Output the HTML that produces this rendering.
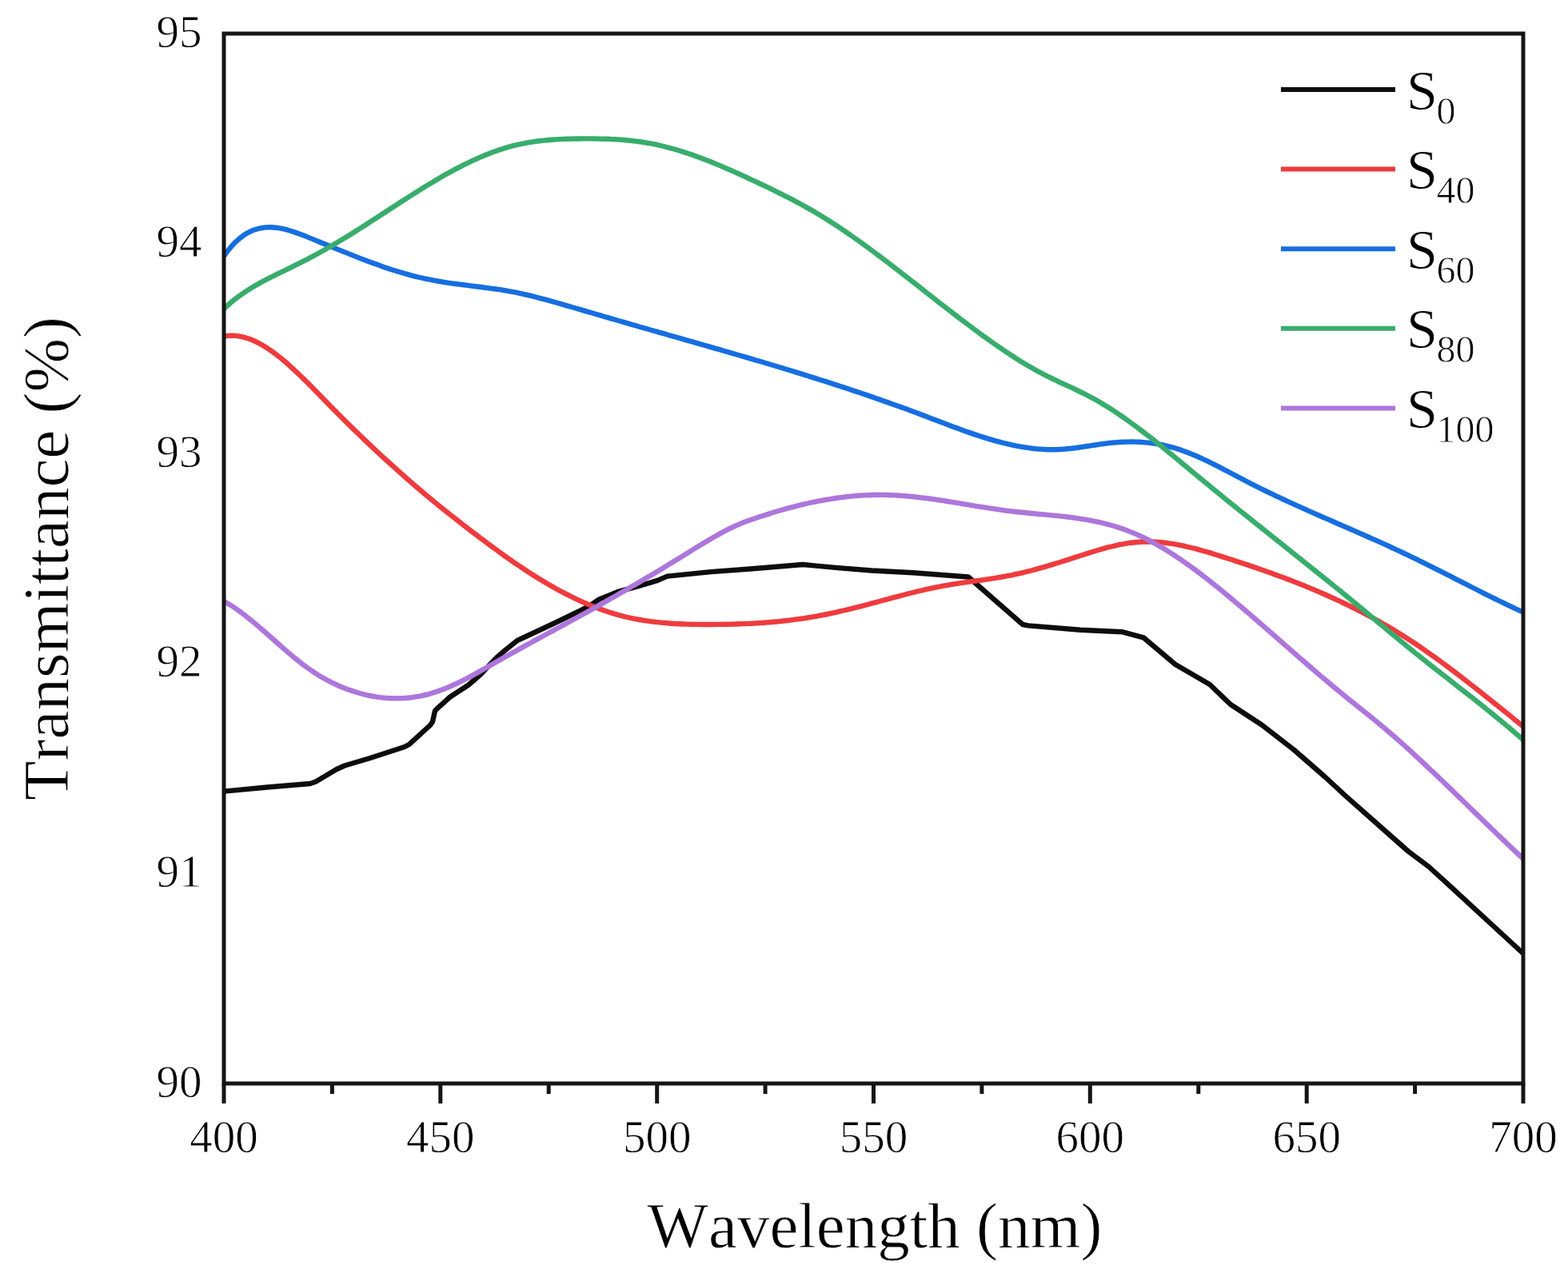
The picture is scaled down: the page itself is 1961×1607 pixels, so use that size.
<!DOCTYPE html>
<html><head><meta charset="utf-8"><title>Transmittance</title>
<style>html,body{margin:0;padding:0;background:#fff;width:1961px;height:1607px;overflow:hidden}svg{display:block;filter:blur(0.7px)}.t{stroke:#fff;stroke-width:0.8px;font-kerning:none}</style>
</head><body>
<svg width="1961" height="1607" viewBox="0 0 1961 1607" font-family="'Liberation Serif', 'Times New Roman', serif" fill="#000"><rect x="0" y="0" width="1961" height="1607" fill="#ffffff"/>
<defs><clipPath id="pc"><rect x="280.0" y="42.0" width="1625.0" height="1313.0"/></clipPath></defs>
<g clip-path="url(#pc)" fill="none" stroke-width="6.4" stroke-linejoin="round" stroke-linecap="butt">
<path d="M280.0,989.6 L334.0,984.5 L388.0,980.0 L395.0,977.5 L421.0,962.0 L431.0,957.5 L463.0,948.0 L506.0,934.0 L512.0,930.7 L538.0,907.0 L541.0,902.5 L544.0,889.0 L548.4,884.6 L563.0,871.5 L586.0,856.5 L601.0,843.5 L609.0,835.0 L621.0,822.4 L632.0,813.0 L647.0,801.0 L662.0,794.0 L693.0,779.5 L724.0,764.5 L739.0,756.6 L749.0,749.6 L773.4,739.8 L797.9,733.2 L822.4,725.9 L834.6,720.6 L889.0,715.1 L941.0,711.2 L1004.0,706.0 L1045.0,709.9 L1090.0,713.5 L1142.0,716.3 L1211.0,721.5 L1279.0,781.0 L1286.0,782.4 L1351.0,787.7 L1404.0,790.3 L1430.0,797.3 L1470.0,831.0 L1513.0,856.0 L1539.0,881.0 L1578.0,906.5 L1618.0,937.5 L1657.0,971.5 L1683.0,995.5 L1735.0,1041.5 L1761.0,1064.5 L1787.0,1084.0 L1814.0,1108.6 L1867.0,1157.5 L1905.0,1192.5" stroke="#0d0d0d"/>
<path d="M280.0,420.6 L285.0,419.9 L290.0,419.7 L295.0,419.9 L300.0,420.6 L305.0,421.7 L310.0,423.2 L315.0,425.1 L320.0,427.3 L325.0,429.8 L330.0,432.7 L335.0,435.9 L340.0,439.3 L345.0,443.0 L350.0,446.9 L355.0,451.0 L360.0,455.3 L365.0,459.8 L370.0,464.5 L375.0,469.3 L380.0,474.1 L385.0,479.1 L390.0,484.1 L395.0,489.2 L400.0,494.3 L405.0,499.5 L410.0,504.6 L415.0,509.7 L420.0,514.7 L425.0,519.7 L430.0,524.7 L435.0,529.7 L440.0,534.6 L445.0,539.5 L450.0,544.3 L455.0,549.1 L460.0,553.9 L465.0,558.6 L470.0,563.3 L475.0,568.0 L480.0,572.6 L485.0,577.2 L490.0,581.7 L495.0,586.2 L500.0,590.7 L505.0,595.1 L510.0,599.5 L515.0,603.9 L520.0,608.2 L525.0,612.5 L530.0,616.7 L535.0,620.9 L540.0,625.0 L545.0,629.1 L550.0,633.2 L555.0,637.2 L560.0,641.2 L565.0,645.2 L570.0,649.1 L575.0,653.0 L580.0,656.9 L585.0,660.8 L590.0,664.6 L595.0,668.4 L600.0,672.2 L605.0,675.9 L610.0,679.7 L615.0,683.4 L620.0,687.0 L625.0,690.7 L630.0,694.3 L635.0,697.8 L640.0,701.3 L645.0,704.8 L650.0,708.2 L655.0,711.5 L660.0,714.8 L665.0,718.0 L670.0,721.2 L675.0,724.3 L680.0,727.3 L685.0,730.3 L690.0,733.1 L695.0,736.0 L700.0,738.7 L705.0,741.3 L710.0,743.9 L715.0,746.4 L720.0,748.8 L725.0,751.2 L730.0,753.4 L735.0,755.6 L740.0,757.6 L745.0,759.6 L750.0,761.5 L755.0,763.3 L760.0,765.0 L765.0,766.6 L770.0,768.1 L775.0,769.5 L780.0,770.8 L785.0,772.0 L790.0,773.1 L795.0,774.1 L800.0,775.0 L805.0,775.8 L810.0,776.6 L815.0,777.3 L820.0,777.9 L825.0,778.4 L830.0,778.9 L835.0,779.3 L840.0,779.7 L845.0,780.0 L850.0,780.3 L855.0,780.5 L860.0,780.6 L865.0,780.8 L870.0,780.9 L875.0,780.9 L880.0,781.0 L885.0,781.0 L890.0,781.0 L895.0,780.9 L900.0,780.9 L905.0,780.8 L910.0,780.7 L915.0,780.6 L920.0,780.5 L925.0,780.3 L930.0,780.1 L935.0,779.9 L940.0,779.7 L945.0,779.4 L950.0,779.1 L955.0,778.8 L960.0,778.4 L965.0,778.0 L970.0,777.5 L975.0,777.1 L980.0,776.5 L985.0,776.0 L990.0,775.4 L995.0,774.7 L1000.0,774.0 L1005.0,773.3 L1010.0,772.5 L1015.0,771.7 L1020.0,770.8 L1025.0,769.9 L1030.0,769.0 L1035.0,768.0 L1040.0,766.9 L1045.0,765.8 L1050.0,764.7 L1055.0,763.5 L1060.0,762.3 L1065.0,761.1 L1070.0,759.9 L1075.0,758.6 L1080.0,757.3 L1085.0,756.0 L1090.0,754.6 L1095.0,753.3 L1100.0,752.0 L1105.0,750.6 L1110.0,749.3 L1115.0,747.9 L1120.0,746.6 L1125.0,745.3 L1130.0,744.0 L1135.0,742.7 L1140.0,741.5 L1145.0,740.2 L1150.0,739.0 L1155.0,737.9 L1160.0,736.7 L1165.0,735.6 L1170.0,734.6 L1175.0,733.6 L1180.0,732.7 L1185.0,731.8 L1190.0,730.9 L1195.0,730.1 L1200.0,729.4 L1205.0,728.6 L1210.0,727.9 L1215.0,727.2 L1220.0,726.5 L1225.0,725.8 L1230.0,725.1 L1235.0,724.3 L1240.0,723.6 L1245.0,722.8 L1250.0,722.0 L1255.0,721.1 L1260.0,720.2 L1265.0,719.3 L1270.0,718.2 L1275.0,717.1 L1280.0,716.0 L1285.0,714.7 L1290.0,713.5 L1295.0,712.1 L1300.0,710.7 L1305.0,709.3 L1310.0,707.9 L1315.0,706.4 L1320.0,704.8 L1325.0,703.3 L1330.0,701.7 L1335.0,700.1 L1340.0,698.5 L1345.0,696.9 L1350.0,695.3 L1355.0,693.7 L1360.0,692.1 L1365.0,690.5 L1370.0,689.0 L1375.0,687.5 L1380.0,686.1 L1385.0,684.7 L1390.0,683.5 L1395.0,682.3 L1400.0,681.2 L1405.0,680.3 L1410.0,679.4 L1415.0,678.7 L1420.0,678.2 L1425.0,677.8 L1430.0,677.5 L1435.0,677.4 L1440.0,677.5 L1445.0,677.7 L1450.0,678.1 L1455.0,678.5 L1460.0,679.2 L1465.0,679.9 L1470.0,680.7 L1475.0,681.6 L1480.0,682.7 L1485.0,683.8 L1490.0,685.0 L1495.0,686.2 L1500.0,687.6 L1505.0,689.0 L1510.0,690.4 L1515.0,691.9 L1520.0,693.5 L1525.0,695.0 L1530.0,696.6 L1535.0,698.2 L1540.0,699.8 L1545.0,701.5 L1550.0,703.1 L1555.0,704.8 L1560.0,706.4 L1565.0,708.1 L1570.0,709.8 L1575.0,711.6 L1580.0,713.3 L1585.0,715.1 L1590.0,716.8 L1595.0,718.7 L1600.0,720.5 L1605.0,722.3 L1610.0,724.2 L1615.0,726.1 L1620.0,728.1 L1625.0,730.0 L1630.0,732.0 L1635.0,734.1 L1640.0,736.1 L1645.0,738.2 L1650.0,740.4 L1655.0,742.5 L1660.0,744.7 L1665.0,747.0 L1670.0,749.3 L1675.0,751.6 L1680.0,754.0 L1685.0,756.4 L1690.0,758.8 L1695.0,761.3 L1700.0,763.9 L1705.0,766.5 L1710.0,769.1 L1715.0,771.8 L1720.0,774.6 L1725.0,777.4 L1730.0,780.2 L1735.0,783.1 L1740.0,786.1 L1745.0,789.1 L1750.0,792.2 L1755.0,795.3 L1760.0,798.5 L1765.0,801.7 L1770.0,805.0 L1775.0,808.4 L1780.0,811.8 L1785.0,815.3 L1790.0,818.8 L1795.0,822.4 L1800.0,826.0 L1805.0,829.7 L1810.0,833.4 L1815.0,837.2 L1820.0,840.9 L1825.0,844.8 L1830.0,848.6 L1835.0,852.5 L1840.0,856.4 L1845.0,860.3 L1850.0,864.3 L1855.0,868.2 L1860.0,872.2 L1865.0,876.2 L1870.0,880.2 L1875.0,884.2 L1880.0,888.3 L1885.0,892.3 L1890.0,896.4 L1895.0,900.4 L1900.0,904.4 L1905.0,908.5" stroke="#ef3b3e"/>
<path d="M280.0,320.3 L285.0,313.5 L290.0,307.5 L295.0,302.3 L300.0,297.9 L305.0,294.1 L310.0,291.1 L315.0,288.6 L320.0,286.8 L325.0,285.5 L330.0,284.6 L335.0,284.3 L340.0,284.3 L345.0,284.7 L350.0,285.4 L355.0,286.4 L360.0,287.7 L365.0,289.2 L370.0,290.9 L375.0,292.7 L380.0,294.6 L385.0,296.6 L390.0,298.6 L395.0,300.6 L400.0,302.7 L405.0,304.7 L410.0,306.8 L415.0,308.8 L420.0,310.9 L425.0,312.9 L430.0,314.9 L435.0,316.9 L440.0,318.9 L445.0,320.9 L450.0,322.9 L455.0,324.8 L460.0,326.7 L465.0,328.5 L470.0,330.3 L475.0,332.1 L480.0,333.9 L485.0,335.6 L490.0,337.2 L495.0,338.8 L500.0,340.3 L505.0,341.8 L510.0,343.2 L515.0,344.6 L520.0,345.8 L525.0,347.0 L530.0,348.2 L535.0,349.2 L540.0,350.2 L545.0,351.1 L550.0,352.0 L555.0,352.8 L560.0,353.6 L565.0,354.3 L570.0,355.0 L575.0,355.7 L580.0,356.3 L585.0,356.9 L590.0,357.6 L595.0,358.2 L600.0,358.8 L605.0,359.5 L610.0,360.1 L615.0,360.8 L620.0,361.5 L625.0,362.2 L630.0,363.0 L635.0,363.9 L640.0,364.8 L645.0,365.7 L650.0,366.8 L655.0,367.9 L660.0,369.0 L665.0,370.2 L670.0,371.5 L675.0,372.8 L680.0,374.1 L685.0,375.4 L690.0,376.8 L695.0,378.3 L700.0,379.7 L705.0,381.1 L710.0,382.6 L715.0,384.0 L720.0,385.5 L725.0,386.9 L730.0,388.4 L735.0,389.8 L740.0,391.3 L745.0,392.8 L750.0,394.2 L755.0,395.7 L760.0,397.1 L765.0,398.6 L770.0,400.0 L775.0,401.5 L780.0,402.9 L785.0,404.4 L790.0,405.8 L795.0,407.2 L800.0,408.7 L805.0,410.1 L810.0,411.5 L815.0,413.0 L820.0,414.4 L825.0,415.8 L830.0,417.2 L835.0,418.7 L840.0,420.1 L845.0,421.5 L850.0,422.9 L855.0,424.4 L860.0,425.8 L865.0,427.2 L870.0,428.6 L875.0,430.1 L880.0,431.5 L885.0,432.9 L890.0,434.4 L895.0,435.8 L900.0,437.2 L905.0,438.7 L910.0,440.1 L915.0,441.6 L920.0,443.0 L925.0,444.5 L930.0,445.9 L935.0,447.4 L940.0,448.9 L945.0,450.3 L950.0,451.8 L955.0,453.3 L960.0,454.8 L965.0,456.3 L970.0,457.8 L975.0,459.3 L980.0,460.8 L985.0,462.3 L990.0,463.8 L995.0,465.4 L1000.0,466.9 L1005.0,468.4 L1010.0,470.0 L1015.0,471.6 L1020.0,473.1 L1025.0,474.7 L1030.0,476.3 L1035.0,477.9 L1040.0,479.5 L1045.0,481.1 L1050.0,482.7 L1055.0,484.4 L1060.0,486.0 L1065.0,487.7 L1070.0,489.4 L1075.0,491.0 L1080.0,492.7 L1085.0,494.4 L1090.0,496.1 L1095.0,497.9 L1100.0,499.6 L1105.0,501.4 L1110.0,503.1 L1115.0,504.9 L1120.0,506.7 L1125.0,508.5 L1130.0,510.3 L1135.0,512.1 L1140.0,514.0 L1145.0,515.8 L1150.0,517.7 L1155.0,519.6 L1160.0,521.5 L1165.0,523.4 L1170.0,525.3 L1175.0,527.2 L1180.0,529.1 L1185.0,531.0 L1190.0,532.9 L1195.0,534.8 L1200.0,536.6 L1205.0,538.4 L1210.0,540.2 L1215.0,541.9 L1220.0,543.6 L1225.0,545.3 L1230.0,546.9 L1235.0,548.4 L1240.0,549.9 L1245.0,551.3 L1250.0,552.7 L1255.0,554.0 L1260.0,555.2 L1265.0,556.3 L1270.0,557.4 L1275.0,558.3 L1280.0,559.2 L1285.0,559.9 L1290.0,560.6 L1295.0,561.2 L1300.0,561.6 L1305.0,561.9 L1310.0,562.2 L1315.0,562.2 L1320.0,562.2 L1325.0,562.0 L1330.0,561.7 L1335.0,561.3 L1340.0,560.8 L1345.0,560.2 L1350.0,559.5 L1355.0,558.7 L1360.0,558.0 L1365.0,557.2 L1370.0,556.5 L1375.0,555.7 L1380.0,555.0 L1385.0,554.4 L1390.0,553.8 L1395.0,553.4 L1400.0,553.0 L1405.0,552.7 L1410.0,552.6 L1415.0,552.5 L1420.0,552.6 L1425.0,552.8 L1430.0,553.1 L1435.0,553.6 L1440.0,554.1 L1445.0,554.9 L1450.0,555.7 L1455.0,556.7 L1460.0,557.8 L1465.0,559.1 L1470.0,560.5 L1475.0,562.1 L1480.0,563.9 L1485.0,565.7 L1490.0,567.7 L1495.0,569.8 L1500.0,572.0 L1505.0,574.3 L1510.0,576.7 L1515.0,579.1 L1520.0,581.6 L1525.0,584.2 L1530.0,586.8 L1535.0,589.4 L1540.0,592.0 L1545.0,594.6 L1550.0,597.3 L1555.0,599.9 L1560.0,602.5 L1565.0,605.1 L1570.0,607.6 L1575.0,610.1 L1580.0,612.6 L1585.0,615.0 L1590.0,617.4 L1595.0,619.8 L1600.0,622.2 L1605.0,624.5 L1610.0,626.8 L1615.0,629.1 L1620.0,631.4 L1625.0,633.7 L1630.0,635.9 L1635.0,638.1 L1640.0,640.4 L1645.0,642.6 L1650.0,644.8 L1655.0,647.0 L1660.0,649.1 L1665.0,651.3 L1670.0,653.5 L1675.0,655.7 L1680.0,657.9 L1685.0,660.0 L1690.0,662.2 L1695.0,664.4 L1700.0,666.6 L1705.0,668.8 L1710.0,671.0 L1715.0,673.2 L1720.0,675.4 L1725.0,677.7 L1730.0,679.9 L1735.0,682.2 L1740.0,684.5 L1745.0,686.8 L1750.0,689.1 L1755.0,691.5 L1760.0,693.9 L1765.0,696.3 L1770.0,698.7 L1775.0,701.1 L1780.0,703.6 L1785.0,706.1 L1790.0,708.6 L1795.0,711.1 L1800.0,713.6 L1805.0,716.1 L1810.0,718.7 L1815.0,721.2 L1820.0,723.8 L1825.0,726.3 L1830.0,728.9 L1835.0,731.4 L1840.0,734.0 L1845.0,736.5 L1850.0,739.0 L1855.0,741.6 L1860.0,744.1 L1865.0,746.6 L1870.0,749.0 L1875.0,751.5 L1880.0,753.9 L1885.0,756.3 L1890.0,758.7 L1895.0,761.1 L1900.0,763.4 L1905.0,765.7" stroke="#166ee0"/>
<path d="M280.0,386.1 L285.0,381.6 L290.0,377.3 L295.0,373.3 L300.0,369.6 L305.0,366.1 L310.0,362.8 L315.0,359.7 L320.0,356.7 L325.0,353.9 L330.0,351.2 L335.0,348.7 L340.0,346.1 L345.0,343.7 L350.0,341.2 L355.0,338.8 L360.0,336.4 L365.0,333.9 L370.0,331.4 L375.0,328.9 L380.0,326.3 L385.0,323.8 L390.0,321.1 L395.0,318.5 L400.0,315.7 L405.0,313.0 L410.0,310.1 L415.0,307.3 L420.0,304.3 L425.0,301.3 L430.0,298.3 L435.0,295.3 L440.0,292.2 L445.0,289.0 L450.0,285.9 L455.0,282.7 L460.0,279.5 L465.0,276.2 L470.0,273.0 L475.0,269.8 L480.0,266.5 L485.0,263.3 L490.0,260.0 L495.0,256.8 L500.0,253.5 L505.0,250.3 L510.0,247.1 L515.0,243.9 L520.0,240.7 L525.0,237.6 L530.0,234.5 L535.0,231.4 L540.0,228.4 L545.0,225.4 L550.0,222.5 L555.0,219.6 L560.0,216.8 L565.0,214.1 L570.0,211.4 L575.0,208.8 L580.0,206.2 L585.0,203.8 L590.0,201.4 L595.0,199.1 L600.0,196.9 L605.0,194.8 L610.0,192.7 L615.0,190.8 L620.0,189.0 L625.0,187.2 L630.0,185.6 L635.0,184.1 L640.0,182.7 L645.0,181.5 L650.0,180.3 L655.0,179.3 L660.0,178.4 L665.0,177.6 L670.0,176.8 L675.0,176.2 L680.0,175.6 L685.0,175.2 L690.0,174.8 L695.0,174.4 L700.0,174.1 L705.0,173.9 L710.0,173.7 L715.0,173.6 L720.0,173.5 L725.0,173.5 L730.0,173.4 L735.0,173.4 L740.0,173.4 L745.0,173.5 L750.0,173.6 L755.0,173.7 L760.0,173.8 L765.0,174.1 L770.0,174.3 L775.0,174.6 L780.0,175.0 L785.0,175.5 L790.0,176.0 L795.0,176.6 L800.0,177.2 L805.0,178.0 L810.0,178.8 L815.0,179.7 L820.0,180.7 L825.0,181.8 L830.0,183.0 L835.0,184.3 L840.0,185.6 L845.0,187.0 L850.0,188.5 L855.0,190.1 L860.0,191.7 L865.0,193.4 L870.0,195.2 L875.0,197.0 L880.0,198.9 L885.0,200.8 L890.0,202.8 L895.0,204.9 L900.0,206.9 L905.0,209.1 L910.0,211.2 L915.0,213.4 L920.0,215.6 L925.0,217.9 L930.0,220.2 L935.0,222.5 L940.0,224.8 L945.0,227.1 L950.0,229.5 L955.0,231.8 L960.0,234.2 L965.0,236.6 L970.0,239.1 L975.0,241.6 L980.0,244.1 L985.0,246.6 L990.0,249.2 L995.0,251.9 L1000.0,254.5 L1005.0,257.3 L1010.0,260.1 L1015.0,262.9 L1020.0,265.8 L1025.0,268.8 L1030.0,271.9 L1035.0,275.0 L1040.0,278.2 L1045.0,281.4 L1050.0,284.7 L1055.0,288.1 L1060.0,291.5 L1065.0,295.0 L1070.0,298.5 L1075.0,302.0 L1080.0,305.6 L1085.0,309.3 L1090.0,313.0 L1095.0,316.7 L1100.0,320.4 L1105.0,324.2 L1110.0,328.0 L1115.0,331.8 L1120.0,335.7 L1125.0,339.5 L1130.0,343.4 L1135.0,347.3 L1140.0,351.2 L1145.0,355.1 L1150.0,359.1 L1155.0,363.0 L1160.0,366.9 L1165.0,370.8 L1170.0,374.7 L1175.0,378.7 L1180.0,382.5 L1185.0,386.4 L1190.0,390.3 L1195.0,394.1 L1200.0,398.0 L1205.0,401.8 L1210.0,405.5 L1215.0,409.3 L1220.0,413.0 L1225.0,416.7 L1230.0,420.3 L1235.0,423.9 L1240.0,427.5 L1245.0,431.0 L1250.0,434.4 L1255.0,437.8 L1260.0,441.2 L1265.0,444.5 L1270.0,447.7 L1275.0,450.9 L1280.0,453.9 L1285.0,456.9 L1290.0,459.8 L1295.0,462.7 L1300.0,465.4 L1305.0,468.0 L1310.0,470.6 L1315.0,473.0 L1320.0,475.4 L1325.0,477.8 L1330.0,480.1 L1335.0,482.4 L1340.0,484.7 L1345.0,487.1 L1350.0,489.5 L1355.0,491.9 L1360.0,494.5 L1365.0,497.1 L1370.0,499.8 L1375.0,502.7 L1380.0,505.7 L1385.0,508.8 L1390.0,511.9 L1395.0,515.2 L1400.0,518.6 L1405.0,522.0 L1410.0,525.5 L1415.0,529.2 L1420.0,532.8 L1425.0,536.6 L1430.0,540.4 L1435.0,544.2 L1440.0,548.1 L1445.0,552.1 L1450.0,556.1 L1455.0,560.1 L1460.0,564.2 L1465.0,568.3 L1470.0,572.4 L1475.0,576.5 L1480.0,580.7 L1485.0,584.8 L1490.0,589.0 L1495.0,593.1 L1500.0,597.3 L1505.0,601.4 L1510.0,605.5 L1515.0,609.6 L1520.0,613.7 L1525.0,617.8 L1530.0,621.9 L1535.0,625.9 L1540.0,630.0 L1545.0,634.0 L1550.0,638.1 L1555.0,642.1 L1560.0,646.1 L1565.0,650.1 L1570.0,654.1 L1575.0,658.1 L1580.0,662.1 L1585.0,666.0 L1590.0,670.0 L1595.0,674.0 L1600.0,678.0 L1605.0,682.0 L1610.0,686.0 L1615.0,689.9 L1620.0,693.9 L1625.0,697.9 L1630.0,701.9 L1635.0,705.9 L1640.0,709.9 L1645.0,713.9 L1650.0,717.9 L1655.0,721.9 L1660.0,726.0 L1665.0,730.0 L1670.0,734.1 L1675.0,738.1 L1680.0,742.2 L1685.0,746.3 L1690.0,750.4 L1695.0,754.5 L1700.0,758.6 L1705.0,762.8 L1710.0,766.9 L1715.0,771.1 L1720.0,775.3 L1725.0,779.5 L1730.0,783.6 L1735.0,787.8 L1740.0,792.0 L1745.0,796.1 L1750.0,800.3 L1755.0,804.4 L1760.0,808.5 L1765.0,812.5 L1770.0,816.6 L1775.0,820.6 L1780.0,824.6 L1785.0,828.5 L1790.0,832.5 L1795.0,836.4 L1800.0,840.3 L1805.0,844.2 L1810.0,848.1 L1815.0,852.0 L1820.0,856.0 L1825.0,859.9 L1830.0,863.8 L1835.0,867.7 L1840.0,871.6 L1845.0,875.6 L1850.0,879.5 L1855.0,883.5 L1860.0,887.6 L1865.0,891.6 L1870.0,895.7 L1875.0,899.8 L1880.0,903.9 L1885.0,908.1 L1890.0,912.3 L1895.0,916.6 L1900.0,920.9 L1905.0,925.3" stroke="#38ad6c"/>
<path d="M280.0,751.9 L285.0,754.8 L290.0,757.9 L295.0,761.2 L300.0,764.7 L305.0,768.5 L310.0,772.4 L315.0,776.4 L320.0,780.6 L325.0,784.9 L330.0,789.2 L335.0,793.6 L340.0,798.0 L345.0,802.5 L350.0,806.9 L355.0,811.3 L360.0,815.6 L365.0,819.9 L370.0,824.0 L375.0,828.0 L380.0,831.9 L385.0,835.5 L390.0,839.0 L395.0,842.3 L400.0,845.4 L405.0,848.3 L410.0,851.0 L415.0,853.6 L420.0,856.0 L425.0,858.2 L430.0,860.3 L435.0,862.2 L440.0,863.9 L445.0,865.5 L450.0,867.0 L455.0,868.3 L460.0,869.5 L465.0,870.5 L470.0,871.4 L475.0,872.1 L480.0,872.6 L485.0,873.1 L490.0,873.3 L495.0,873.4 L500.0,873.3 L505.0,873.1 L510.0,872.7 L515.0,872.2 L520.0,871.4 L525.0,870.6 L530.0,869.5 L535.0,868.3 L540.0,866.9 L545.0,865.3 L550.0,863.6 L555.0,861.7 L560.0,859.7 L565.0,857.5 L570.0,855.3 L575.0,852.9 L580.0,850.4 L585.0,847.8 L590.0,845.1 L595.0,842.4 L600.0,839.6 L605.0,836.8 L610.0,833.9 L615.0,831.1 L620.0,828.2 L625.0,825.4 L630.0,822.5 L635.0,819.7 L640.0,816.9 L645.0,814.2 L650.0,811.4 L655.0,808.6 L660.0,805.9 L665.0,803.2 L670.0,800.4 L675.0,797.7 L680.0,795.0 L685.0,792.3 L690.0,789.6 L695.0,786.9 L700.0,784.2 L705.0,781.4 L710.0,778.7 L715.0,776.0 L720.0,773.3 L725.0,770.5 L730.0,767.7 L735.0,765.0 L740.0,762.2 L745.0,759.4 L750.0,756.6 L755.0,753.7 L760.0,750.9 L765.0,748.0 L770.0,745.2 L775.0,742.3 L780.0,739.4 L785.0,736.5 L790.0,733.6 L795.0,730.7 L800.0,727.7 L805.0,724.8 L810.0,721.8 L815.0,718.9 L820.0,715.9 L825.0,712.9 L830.0,709.9 L835.0,706.8 L840.0,703.8 L845.0,700.8 L850.0,697.7 L855.0,694.6 L860.0,691.5 L865.0,688.4 L870.0,685.3 L875.0,682.3 L880.0,679.2 L885.0,676.2 L890.0,673.3 L895.0,670.4 L900.0,667.6 L905.0,664.9 L910.0,662.3 L915.0,659.8 L920.0,657.5 L925.0,655.4 L930.0,653.3 L935.0,651.5 L940.0,649.7 L945.0,648.0 L950.0,646.3 L955.0,644.7 L960.0,643.1 L965.0,641.5 L970.0,640.0 L975.0,638.5 L980.0,637.1 L985.0,635.7 L990.0,634.4 L995.0,633.1 L1000.0,631.9 L1005.0,630.7 L1010.0,629.5 L1015.0,628.4 L1020.0,627.4 L1025.0,626.4 L1030.0,625.5 L1035.0,624.6 L1040.0,623.8 L1045.0,623.0 L1050.0,622.3 L1055.0,621.7 L1060.0,621.1 L1065.0,620.6 L1070.0,620.1 L1075.0,619.7 L1080.0,619.4 L1085.0,619.2 L1090.0,619.0 L1095.0,618.9 L1100.0,618.8 L1105.0,618.9 L1110.0,619.0 L1115.0,619.2 L1120.0,619.4 L1125.0,619.7 L1130.0,620.1 L1135.0,620.5 L1140.0,621.0 L1145.0,621.5 L1150.0,622.1 L1155.0,622.7 L1160.0,623.3 L1165.0,624.0 L1170.0,624.7 L1175.0,625.5 L1180.0,626.2 L1185.0,627.0 L1190.0,627.8 L1195.0,628.6 L1200.0,629.4 L1205.0,630.3 L1210.0,631.1 L1215.0,631.9 L1220.0,632.8 L1225.0,633.6 L1230.0,634.4 L1235.0,635.2 L1240.0,635.9 L1245.0,636.7 L1250.0,637.4 L1255.0,638.1 L1260.0,638.8 L1265.0,639.4 L1270.0,640.0 L1275.0,640.5 L1280.0,641.0 L1285.0,641.5 L1290.0,642.0 L1295.0,642.5 L1300.0,643.0 L1305.0,643.4 L1310.0,643.9 L1315.0,644.4 L1320.0,644.9 L1325.0,645.4 L1330.0,645.9 L1335.0,646.5 L1340.0,647.2 L1345.0,647.8 L1350.0,648.6 L1355.0,649.4 L1360.0,650.2 L1365.0,651.1 L1370.0,652.1 L1375.0,653.2 L1380.0,654.4 L1385.0,655.7 L1390.0,657.0 L1395.0,658.5 L1400.0,660.1 L1405.0,661.8 L1410.0,663.6 L1415.0,665.6 L1420.0,667.6 L1425.0,669.9 L1430.0,672.2 L1435.0,674.7 L1440.0,677.3 L1445.0,680.0 L1450.0,682.9 L1455.0,685.8 L1460.0,688.9 L1465.0,692.1 L1470.0,695.3 L1475.0,698.7 L1480.0,702.1 L1485.0,705.6 L1490.0,709.2 L1495.0,712.9 L1500.0,716.6 L1505.0,720.5 L1510.0,724.3 L1515.0,728.3 L1520.0,732.3 L1525.0,736.3 L1530.0,740.4 L1535.0,744.5 L1540.0,748.7 L1545.0,752.9 L1550.0,757.1 L1555.0,761.3 L1560.0,765.6 L1565.0,769.9 L1570.0,774.2 L1575.0,778.6 L1580.0,782.9 L1585.0,787.3 L1590.0,791.7 L1595.0,796.0 L1600.0,800.4 L1605.0,804.8 L1610.0,809.2 L1615.0,813.6 L1620.0,817.9 L1625.0,822.3 L1630.0,826.7 L1635.0,831.0 L1640.0,835.3 L1645.0,839.6 L1650.0,843.9 L1655.0,848.1 L1660.0,852.3 L1665.0,856.5 L1670.0,860.7 L1675.0,864.8 L1680.0,868.9 L1685.0,872.9 L1690.0,876.9 L1695.0,880.9 L1700.0,885.0 L1705.0,889.0 L1710.0,893.0 L1715.0,897.0 L1720.0,901.1 L1725.0,905.3 L1730.0,909.4 L1735.0,913.7 L1740.0,918.0 L1745.0,922.3 L1750.0,926.7 L1755.0,931.2 L1760.0,935.7 L1765.0,940.2 L1770.0,944.8 L1775.0,949.4 L1780.0,954.1 L1785.0,958.8 L1790.0,963.5 L1795.0,968.2 L1800.0,973.0 L1805.0,977.8 L1810.0,982.6 L1815.0,987.4 L1820.0,992.3 L1825.0,997.1 L1830.0,1002.0 L1835.0,1006.8 L1840.0,1011.7 L1845.0,1016.6 L1850.0,1021.4 L1855.0,1026.3 L1860.0,1031.1 L1865.0,1036.0 L1870.0,1040.8 L1875.0,1045.6 L1880.0,1050.4 L1885.0,1055.1 L1890.0,1059.9 L1895.0,1064.6 L1900.0,1069.3 L1905.0,1073.9" stroke="#ad76dc"/>
</g>
<rect x="280.0" y="42.0" width="1625.0" height="1313.0" fill="none" stroke="#151515" stroke-width="5.0"/>
<path d="M280.0,1355.0 V1380.0 M415.4,1355.0 V1368.0 M550.8,1355.0 V1380.0 M686.2,1355.0 V1368.0 M821.7,1355.0 V1380.0 M957.1,1355.0 V1368.0 M1092.5,1355.0 V1380.0 M1227.9,1355.0 V1368.0 M1363.3,1355.0 V1380.0 M1498.8,1355.0 V1368.0 M1634.2,1355.0 V1380.0 M1769.6,1355.0 V1368.0 M1905.0,1355.0 V1380.0" stroke="#151515" stroke-width="5.0" fill="none"/>
<text class="t" x="280.0" y="1441" font-size="57" text-anchor="middle">400</text>
<text class="t" x="550.8" y="1441" font-size="57" text-anchor="middle">450</text>
<text class="t" x="821.7" y="1441" font-size="57" text-anchor="middle">500</text>
<text class="t" x="1092.5" y="1441" font-size="57" text-anchor="middle">550</text>
<text class="t" x="1363.3" y="1441" font-size="57" text-anchor="middle">600</text>
<text class="t" x="1634.2" y="1441" font-size="57" text-anchor="middle">650</text>
<text class="t" x="1905.0" y="1441" font-size="57" text-anchor="middle">700</text>
<text class="t" x="252.5" y="1371.5" font-size="57" text-anchor="end">90</text>
<text class="t" x="252.5" y="1108.9" font-size="57" text-anchor="end">91</text>
<text class="t" x="252.5" y="846.3" font-size="57" text-anchor="end">92</text>
<text class="t" x="252.5" y="583.7" font-size="57" text-anchor="end">93</text>
<text class="t" x="252.5" y="321.1" font-size="57" text-anchor="end">94</text>
<text class="t" x="252.5" y="58.5" font-size="57" text-anchor="end">95</text>
<text class="t" x="1094" y="1560" font-size="81" text-anchor="middle">Wavelength (nm)</text>
<text class="t" transform="translate(85,698.5) rotate(-90)" x="0" y="0" font-size="81" text-anchor="middle">Transmittance (%)</text>
<path d="M1602,112.0 H1745" stroke="#0d0d0d" stroke-width="6" fill="none"/>
<text class="t" x="1759" y="136.5" font-size="70">S<tspan font-size="48" dx="-1.5" dy="18">0</tspan></text>
<path d="M1602,211.6 H1745" stroke="#ef3b3e" stroke-width="6" fill="none"/>
<text class="t" x="1759" y="236.1" font-size="70">S<tspan font-size="48" dx="-1.5" dy="18">40</tspan></text>
<path d="M1602,311.2 H1745" stroke="#166ee0" stroke-width="6" fill="none"/>
<text class="t" x="1759" y="335.7" font-size="70">S<tspan font-size="48" dx="-1.5" dy="18">60</tspan></text>
<path d="M1602,410.8 H1745" stroke="#38ad6c" stroke-width="6" fill="none"/>
<text class="t" x="1759" y="435.3" font-size="70">S<tspan font-size="48" dx="-1.5" dy="18">80</tspan></text>
<path d="M1602,510.4 H1745" stroke="#ad76dc" stroke-width="6" fill="none"/>
<text class="t" x="1759" y="534.9" font-size="70">S<tspan font-size="48" dx="-1.5" dy="18">100</tspan></text></svg>
</body></html>
